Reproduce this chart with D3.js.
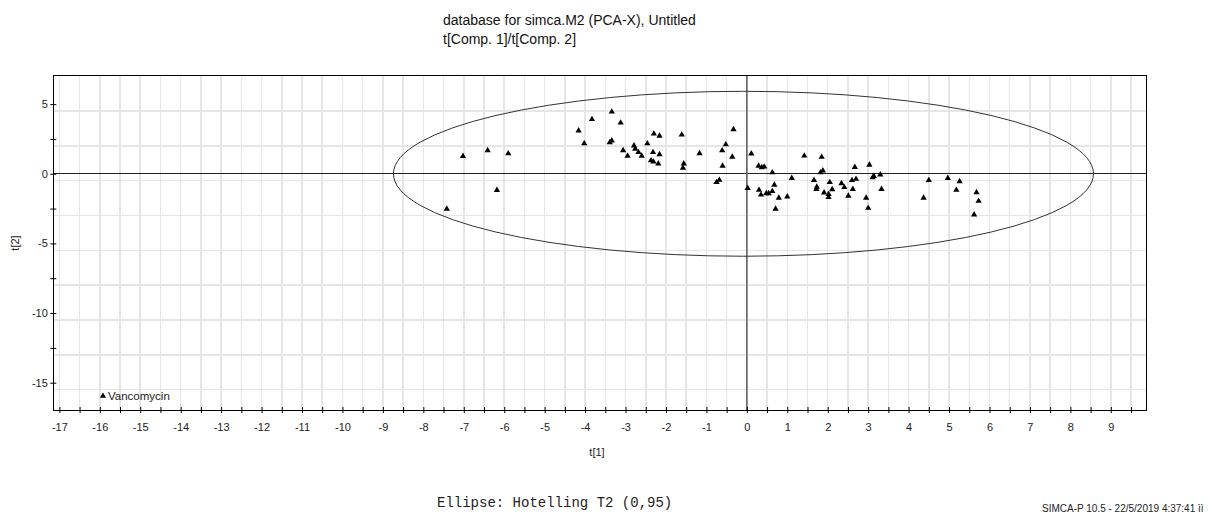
<!DOCTYPE html>
<html>
<head>
<meta charset="utf-8">
<script src="https://cdn.jsdelivr.net/npm/d3@7"></script>
<style>
  html, body { margin: 0; padding: 0; background: #fff; }
  svg { display: block; font-family: "Liberation Sans", Arial, sans-serif; }
</style>
</head>
<body>
<svg id="chart" width="1209" height="514"></svg>
<script>
// PCA-X score plot, first two components
const t1Scores = [
  -7.42, -7.02, -6.41, -5.90, -6.18, -4.16, -4.02, -3.83, -3.34, -3.12,
  -3.39, -3.34, -3.06, -2.95, -2.79, -2.76, -2.68, -2.60, -2.46, -2.30,
  -2.16, -2.32, -2.16, -2.37, -2.31, -2.19, -1.61, -1.56, -1.58, -1.17,
  -0.75, -0.68, -0.60, -0.61, -0.52, -0.36, -0.33, 0.11, 0.02, 0.29,
  0.37, 0.43, 0.63, 0.68, 0.30, 0.35, 0.48, 0.54, 0.63, 0.79,
  1.00, 0.71, 1.11, 1.42, 1.85, 1.82, 1.88, 1.66, 1.73, 1.72,
  1.91, 2.02, 2.02, 2.05, 2.11, 2.34, 2.41, 2.51, 2.62, 2.60,
  2.70, 2.67, 2.95, 3.00, 3.03, 3.11, 3.14, 3.30, 3.33, 4.50,
  4.37, 4.97, 5.26, 5.18, 5.68, 5.73, 5.62
];
const t2Scores = [
  -2.52, 1.27, 1.68, 1.45, -1.18, 3.10, 2.17, 3.91, 4.45, 3.66,
  2.25, 2.38, 1.68, 1.28, 2.02, 1.79, 1.54, 1.28, 2.17, 2.87,
  2.72, 1.54, 1.39, 0.95, 0.86, 0.73, 2.80, 0.73, 0.41, 1.46,
  -0.61, -0.45, 0.57, 1.67, 2.10, 1.21, 3.19, 1.44, -1.03, 0.57,
  0.45, 0.50, 0.09, -0.80, -1.17, -1.51, -1.41, -1.41, -1.26, -1.73,
  -1.65, -2.52, -0.31, 1.29, 1.20, 0.09, 0.22, -0.46, -0.94, -1.11,
  -1.36, -1.46, -1.69, -0.61, -1.12, -0.69, -0.97, -1.59, -1.10, -0.47,
  -0.38, 0.48, -1.73, -2.46, 0.63, -0.27, -0.17, -0.07, -1.10, -0.47,
  -1.73, -0.31, -0.55, -1.17, -1.34, -1.96, -2.94
];
const className = "Vancomycin";

// Axis ticks and grid
const xTicks = d3.range(-17, 9.51, 0.5);
const yTicks = d3.range(-15, 5.01, 2.5);
const xGrid = d3.range(-17, 9.51, 0.5);
const yGrid = d3.range(-15.5, 7, 2.5);

// Hotelling T2 (0.95) ellipse, in score units
const ellipseCenter = [-0.084, 0];
const ellipseRadii = [8.655, 5.92];

const titleLines = ["database for simca.M2 (PCA-X), Untitled", "t[Comp. 1]/t[Comp. 2]"];
const xLabel = "t[1]";
const yLabel = "t[2]";
const footLeft = "Ellipse: Hotelling T2 (0,95)";
const footRight = "SIMCA-P 10.5 - 22/5/2019 4:37:41 ìì";

const sans = "'Liberation Sans', Arial, sans-serif";
const mono = "'Liberation Mono', 'Courier New', monospace";

const plot = { left: 53.3, right: 1146, top: 75, bottom: 410 };

const svg = d3.select("#chart");

const x = d3.scaleLinear().domain([-17.15, 9.87]).range([plot.left, plot.right]);
const y = d3.scaleLinear().domain([-16.96, 7.09]).range([plot.bottom, plot.top]);

// grid
const grid = svg.append("g").attr("shape-rendering", "crispEdges");
grid.selectAll("line.gx").data(xGrid).join("line")
  .attr("class", "gx")
  .attr("x1", d => x(d)).attr("x2", d => x(d))
  .attr("y1", plot.top).attr("y2", plot.bottom)
  .attr("stroke", "#e6e6e6").attr("stroke-width", 1.5);
grid.selectAll("line.gy").data(yGrid).join("line")
  .attr("class", "gy")
  .attr("x1", plot.left).attr("x2", plot.right)
  .attr("y1", d => y(d)).attr("y2", d => y(d))
  .attr("stroke", "#e6e6e6").attr("stroke-width", 1.5);

// zero lines
svg.append("line")
  .attr("x1", plot.left).attr("x2", plot.right)
  .attr("y1", y(0)).attr("y2", y(0))
  .attr("stroke", "#222").attr("stroke-width", 1)
  .attr("shape-rendering", "crispEdges");
svg.append("line")
  .attr("x1", x(0)).attr("x2", x(0))
  .attr("y1", plot.top).attr("y2", plot.bottom)
  .attr("stroke", "#666").attr("stroke-width", 1.6);

// confidence ellipse
svg.append("ellipse")
  .attr("cx", x(ellipseCenter[0])).attr("cy", y(ellipseCenter[1]))
  .attr("rx", x(ellipseRadii[0]) - x(0))
  .attr("ry", y(0) - y(ellipseRadii[1]))
  .attr("fill", "none").attr("stroke", "#333").attr("stroke-width", 1);

// score points
const tri = d3.symbol().type(d3.symbolTriangle).size(17);
svg.append("g").selectAll("path").data(d3.zip(t1Scores, t2Scores)).join("path")
  .attr("d", tri)
  .attr("transform", d => `translate(${x(d[0])},${y(d[1])})`)
  .attr("fill", "#000");

// frame
svg.append("rect")
  .attr("x", plot.left).attr("y", plot.top)
  .attr("width", plot.right - plot.left).attr("height", plot.bottom - plot.top)
  .attr("fill", "none").attr("stroke", "#000").attr("stroke-width", 1)
  .attr("shape-rendering", "crispEdges");

// x axis
const gx = svg.append("g").attr("transform", `translate(0,${plot.bottom})`)
  .call(d3.axisBottom(x).tickValues(xTicks).tickSize(3)
    .tickFormat(d => Number.isInteger(d) ? String(d) : ""));
gx.select(".domain").remove();
gx.selectAll(".tick line").attr("y1", -3).attr("y2", 3).attr("stroke", "#000");
gx.selectAll(".tick text").attr("y", 13)
  .style("font-family", sans).style("font-size", "11px").attr("fill", "#222");

// y axis
const gy = svg.append("g").attr("transform", `translate(${plot.left},0)`)
  .call(d3.axisLeft(y).tickValues(yTicks).tickSize(3)
    .tickFormat(d => d % 5 === 0 ? String(d) : ""));
gy.select(".domain").remove();
gy.selectAll(".tick line").attr("x1", -3).attr("x2", 3).attr("stroke", "#000");
gy.selectAll(".tick text").attr("x", -5.5)
  .style("font-family", sans).style("font-size", "11px").attr("fill", "#222");

// axis titles
svg.append("text").attr("x", 597).attr("y", 456)
  .attr("text-anchor", "middle").style("font-size", "11px").attr("fill", "#222")
  .text(xLabel);
svg.append("text").attr("transform", "translate(19,243) rotate(-90)")
  .attr("text-anchor", "middle").style("font-size", "11px").attr("fill", "#222")
  .text(yLabel);

// chart title
svg.append("g").selectAll("text").data(titleLines).join("text")
  .attr("x", 443).attr("y", (d, i) => 25 + i * 19)
  .style("font-size", "14px").attr("fill", "#111")
  .text(d => d);

// class legend
svg.append("path").attr("d", tri).attr("transform", "translate(103,396)").attr("fill", "#000");
svg.append("text").attr("x", 108).attr("y", 400)
  .style("font-size", "11.5px").attr("fill", "#222").text(className);

// footers
svg.append("text").attr("x", 437).attr("y", 507)
  .style("font-family", mono).style("font-size", "14px")
  .attr("fill", "#222").text(footLeft);
svg.append("text").attr("x", 1042).attr("y", 511.5)
  .style("font-size", "10px").attr("fill", "#222").text(footRight);
</script>
</body>
</html>
